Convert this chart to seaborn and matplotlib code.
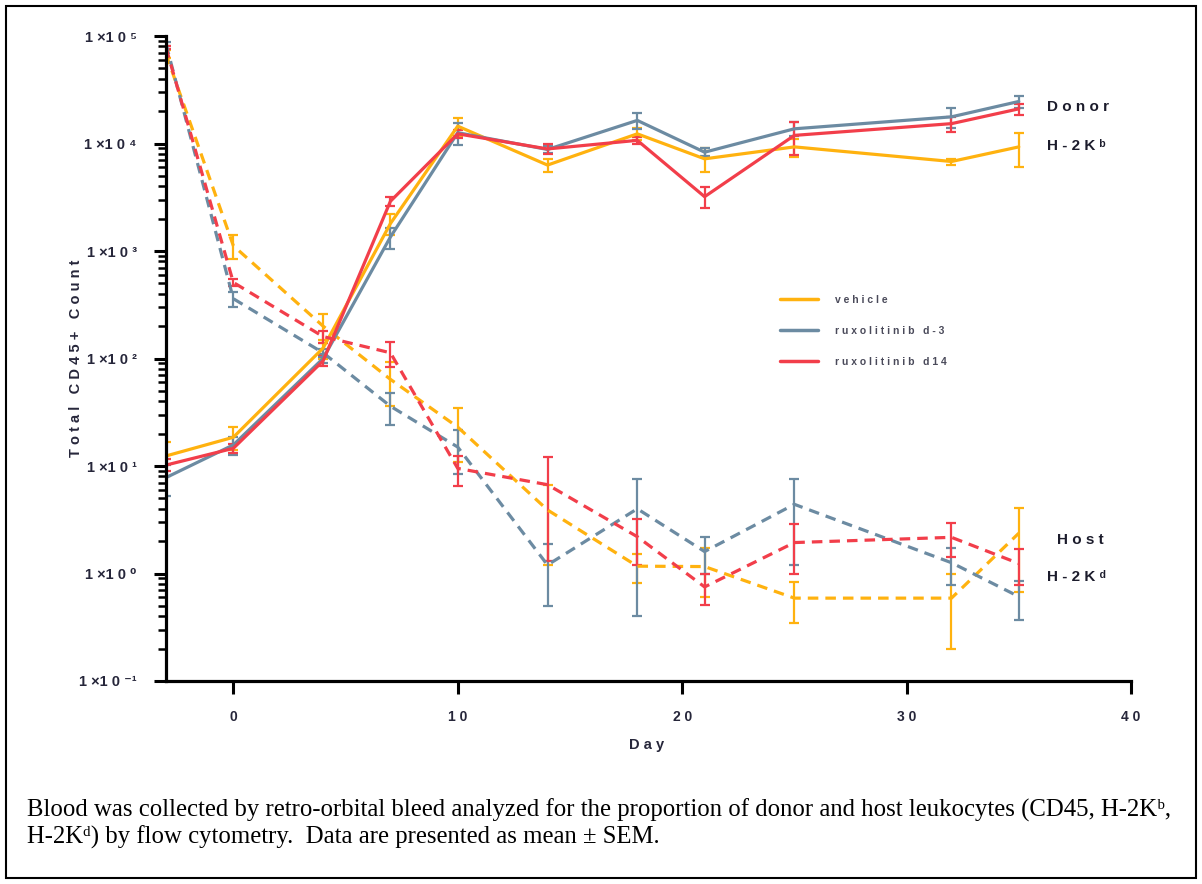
import numpy as np
import pandas as pd
import matplotlib
matplotlib.use("Agg")
import matplotlib.pyplot as plt
from matplotlib.lines import Line2D
from matplotlib.patches import Rectangle
from matplotlib.ticker import LogLocator, FixedLocator, NullFormatter
import seaborn as sns

# ---------------- data ----------------
days = [-3, 0, 4, 7, 10, 14, 18, 21, 25, 32, 35]
groups = ["vehicle", "ruxolitinib d-3", "ruxolitinib d14"]

# Donor H-2Kb (solid)
vehicle_donor = [12.4, 18.5, 125, 1800, 14500, 6300, 12300, 7200, 9300, 6800, 9300]
vehicle_donor_sem = [4.3, 4.4, 25, 400, 2800, 900, 1500, 1800, 1800, 450, 3200]
rux_d3_donor = [7.8, 15.7, 100, 1350, 12600, 8800, 16400, 8300, 13700, 17700, 24600]
rux_d3_donor_sem = [2.5, 3.0, 10, 300, 3000, 600, 2800, 700, 2000, 3700, 3000]
rux_d14_donor = [10.2, 14.6, 95, 2900, 12300, 8900, 10700, 3200, 11900, 15300, 21000]
rux_d14_donor_sem = [1.3, 1.5, 10, 300, 1000, 900, 800, 700, 4000, 2500, 2500]

# Host H-2Kd (dashed)
vehicle_host = [68000, 1120, 200, 64, 23, 3.9, 1.17, 1.16, 0.59, 0.59, 2.37]
vehicle_host_sem = [6000, 280, 60, 28, 12, 2.7, 0.36, 0.55, 0.24, 0.39, 1.7]
rux_d3_host = [84000, 360, 113, 36, 15, 1.2, 4.0, 1.6, 4.4, 1.26, 0.61]
rux_d3_host_sem = [4000, 60, 10, 12, 6.5, 0.7, 3.6, 0.6, 3.2, 0.48, 0.24]
rux_d14_host = [78000, 510, 160, 113, 9.5, 6.7, 2.2, 0.75, 1.94, 2.17, 1.24]
rux_d14_host_sem = [3000, 40, 20, 30, 3, 5.4, 1.0, 0.24, 0.95, 0.75, 0.45]

y_ticks = [1e-1, 1e0, 1e1, 1e2, 1e3, 1e4, 1e5]
y_tick_labels = ["1 ×1 0 ⁻¹", "1 ×1 0 ⁰", "1 ×1 0 ¹", "1 ×1 0 ²",
                 "1 ×1 0 ³", "1 ×1 0 ⁴", "1 ×1 0 ⁵"]
x_ticks = [0, 10, 20, 30, 40]
x_tick_labels = ["0", "1 0", "2 0", "3 0", "4 0"]
legend_labels = ["v e h i c l e", "r u x o l i t i n i b   d - 3", "r u x o l i t i n i b   d 1 4"]

colors = {"vehicle": "#FFB20F", "ruxolitinib d-3": "#6C8BA2", "ruxolitinib d14": "#F23E4A"}

series = {
    ("vehicle", "Donor"): (vehicle_donor, vehicle_donor_sem),
    ("ruxolitinib d-3", "Donor"): (rux_d3_donor, rux_d3_donor_sem),
    ("ruxolitinib d14", "Donor"): (rux_d14_donor, rux_d14_donor_sem),
    ("vehicle", "Host"): (vehicle_host, vehicle_host_sem),
    ("ruxolitinib d-3", "Host"): (rux_d3_host, rux_d3_host_sem),
    ("ruxolitinib d14", "Host"): (rux_d14_host, rux_d14_host_sem),
}

rows = []
for (g, comp), (vals, sems) in series.items():
    for d, v, s in zip(days, vals, sems):
        rows.append({"day": d, "count": v, "sem": s, "group": g, "compartment": comp})
df = pd.DataFrame(rows)

# ---------------- figure ----------------
sns.set_style("ticks")
plt.rcParams["font.family"] = ["Liberation Sans", "DejaVu Sans"]

fig = plt.figure(figsize=(12.02, 8.84), dpi=100)
ax = fig.add_axes([166 / 1202, 1 - 681 / 884, (1131 - 166) / 1202, (681 - 36) / 884])

sns.lineplot(data=df, x="day", y="count", hue="group", style="compartment",
             hue_order=groups, palette=colors,
             dashes={"Donor": "", "Host": (3.3, 2.2)},
             linewidth=2.3, errorbar=None, legend=False, ax=ax, sort=False,
             estimator=None, units="group")

for (g, comp), (vals, sems) in series.items():
    ax.errorbar(days, vals, yerr=sems, fmt="none", ecolor=colors[g],
                elinewidth=1.6, capsize=3.8, capthick=1.6, zorder=1.5)

ax.set_yscale("log")
ax.set_ylim(1e-1, 1e5)
ax.set_xlim(-3, 40)

ax.yaxis.set_major_locator(FixedLocator(y_ticks))
ax.set_yticklabels(y_tick_labels)
ax.yaxis.set_minor_locator(LogLocator(base=10, subs=np.arange(2, 10), numticks=20))
ax.yaxis.set_minor_formatter(NullFormatter())
ax.set_xticks(x_ticks)
ax.set_xticklabels(x_tick_labels)

for sp in ["top", "right"]:
    ax.spines[sp].set_visible(False)
for sp in ["left", "bottom"]:
    ax.spines[sp].set_linewidth(2.3)
    ax.spines[sp].set_color("black")

tick_color = "#26263a"
ax.tick_params(axis="y", which="major", length=9, width=2.2, direction="out",
               pad=12, labelsize=10.5, labelcolor=tick_color, color="black")
ax.tick_params(axis="y", which="minor", length=5.5, width=1.8, direction="out", color="black")
ax.tick_params(axis="x", which="major", length=9, width=2.2, direction="out",
               pad=12, labelsize=10, labelcolor=tick_color, color="black")
for lab in ax.get_xticklabels() + ax.get_yticklabels():
    lab.set_fontweight("bold")

ax.set_ylabel("T o t a l   C D 4 5 +   C o u n t", fontsize=10.5, fontweight="bold",
              color=tick_color)
ax.yaxis.set_label_coords(-0.086, 0.5)
ax.set_xlabel("D a y", fontsize=10.5, fontweight="bold", color=tick_color)
ax.xaxis.set_label_coords(0.498, -0.088)

# legend
handles = [Line2D([0], [0], color=colors[g], lw=2.5) for g in groups]
ax.legend(handles, legend_labels, loc="upper left",
          bbox_to_anchor=((780 - 166) / 965, (681 - 295) / 645),
          frameon=False, borderpad=0, borderaxespad=0, handlelength=3.6,
          handletextpad=1.7, labelspacing=2.0,
          prop={"size": 7.5, "weight": "bold"}, labelcolor="#4a4a5a")

# compartment annotations
ann_kw = dict(transform=ax.transAxes, fontsize=11, fontweight="bold",
              color="#1c1c2c", va="center", ha="left")
ax.text((1047 - 166) / 965, (681 - 107) / 645, "D o n o r", **ann_kw)
ax.text((1047 - 166) / 965, (681 - 146) / 645, "H - 2 K ᵇ", **ann_kw)
ax.text((1057 - 166) / 965, (681 - 540) / 645, "H o s t", **ann_kw)
ax.text((1047 - 166) / 965, (681 - 577) / 645, "H - 2 K ᵈ", **ann_kw)

# caption
caption = ("Blood was collected by retro-orbital bleed analyzed for the proportion of donor and host "
           "leukocytes (CD45, H-2Kᵇ,\nH-2Kᵈ) by flow cytometry.  Data are presented as mean ± SEM.")
fig.text(27 / 1202, 1 - 799 / 884, caption, ha="left", va="top",
         family=["Liberation Serif", "DejaVu Serif"], fontsize=17.8, linespacing=1.17,
         color="black")

# frame around figure
fig.patches.append(Rectangle((6 / 1202, 6 / 884), (1196 - 6) / 1202, (878 - 6) / 884,
                             transform=fig.transFigure, fill=False, lw=1.5,
                             edgecolor="black"))

fig.savefig("out.png", dpi=100)
